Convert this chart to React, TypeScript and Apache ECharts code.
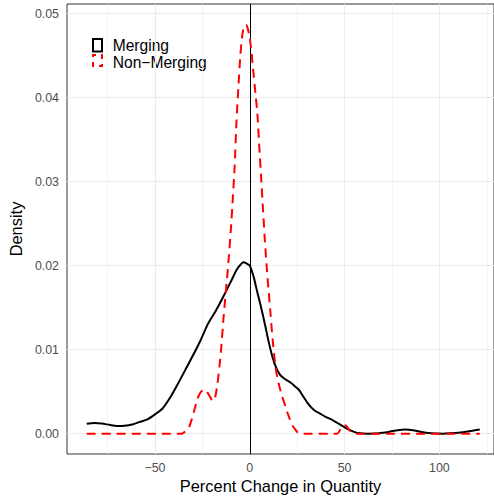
import React, { useEffect, useRef } from "react";
import * as echarts from "echarts";

// Kernel density estimates of the percent change in quantity
const mergingX = [
  -86, -82, -78, -74, -70, -66, -62, -58, -54, -50, -46, -42, -38, -34, -30, -26, -22, -18, -14, -10,
  -7, -5, -3.5, -2, 0, 2, 4, 6, 8, 10, 12, 14, 16, 18, 20, 22, 24, 26, 28, 31, 34, 37, 40, 43, 46,
  49, 52, 55, 58, 62, 66, 70, 74, 78, 82, 86, 90, 94, 98, 102, 106, 110, 114, 118, 121.3,
];
const mergingY = [
  0.00119, 0.00127, 0.0012, 0.00105, 0.00092, 0.00095, 0.0011, 0.0014, 0.0017, 0.0023, 0.003, 0.0043,
  0.0059, 0.0076, 0.0093, 0.0111, 0.0131, 0.0146, 0.0163, 0.0181, 0.0195, 0.0201, 0.0204, 0.0203,
  0.02, 0.0187, 0.0168, 0.015, 0.013, 0.0109, 0.0091, 0.0078, 0.007, 0.0066, 0.0063, 0.006, 0.0056,
  0.0052, 0.0045, 0.0035, 0.0028, 0.0024, 0.002, 0.0017, 0.0013, 0.0009, 0.0005, 0.00022, 0.00005, 0,
  0.00002, 0.0001, 0.00025, 0.00042, 0.0005, 0.00042, 0.00022, 0.00008, 0.00001, 0, 0.00005, 0.00012,
  0.00022, 0.00038, 0.0005,
];

const nonMergingX = [
  -86, -36, -35, -33.5, -32, -30.5, -29, -27.5, -26, -24.5, -23, -21.5, -20, -19, -18, -17, -16, -15,
  -14, -13, -12, -11, -10, -9, -8, -7, -6, -5, -4, -3, -2, -1, 0, 1, 2, 3, 4, 5, 6, 7, 8, 9, 10, 11,
  12, 13, 14, 15, 16, 17, 18, 19, 20, 21, 22, 23, 24, 25, 26, 27, 46, 47, 48, 49, 50, 51, 52, 53, 54,
  55, 121.3,
];
const nonMergingY = [
  0, 0, 0.0001, 0.0004, 0.0008, 0.0018, 0.003, 0.0042, 0.0049, 0.0052, 0.0051, 0.0046, 0.004, 0.0039,
  0.0046, 0.006, 0.008, 0.0104, 0.0134, 0.016, 0.0185, 0.0212, 0.0243, 0.0278, 0.0318, 0.0373, 0.0413,
  0.045, 0.0474, 0.0485, 0.0487, 0.0482, 0.0471, 0.0452, 0.0428, 0.0405, 0.0381, 0.0342, 0.0304,
  0.0266, 0.0228, 0.0196, 0.0168, 0.0141, 0.0113, 0.0091, 0.0073, 0.0062, 0.0053, 0.0045, 0.0038,
  0.0031, 0.0024, 0.0018, 0.0012, 0.0008, 0.0005, 0.0002, 0.00005, 0, 0, 0.0002, 0.0006, 0.0009, 0.001,
  0.0009, 0.0006, 0.0003, 0.0001, 0, 0,
];

const xTicks = [-50, 0, 50, 100];
const xMinorGrid = [-75, -25, 25, 75, 125];
const yTicks = [0, 0.01, 0.02, 0.03, 0.04, 0.05];
const yMinorGrid = [0.005, 0.015, 0.025, 0.035, 0.045];
const legendLabels = ["Merging", "Non\u2212Merging"];

const FONT = "'Liberation Sans', Arial, Helvetica, sans-serif";

export default function App() {
  const ref = useRef<HTMLDivElement>(null);

  useEffect(() => {
    if (!ref.current) return;
    const chart = echarts.init(ref.current, null, { renderer: "svg" });

    const gridLines = [
      ...xTicks.map((v) => ({ xAxis: v, lineStyle: { width: 1.1, color: "#EBEBEB", type: "solid" } })),
      ...xMinorGrid.map((v) => ({ xAxis: v, lineStyle: { width: 0.6, color: "#EBEBEB", type: "solid" } })),
      ...yTicks.map((v) => ({ yAxis: v, lineStyle: { width: 1.1, color: "#EBEBEB", type: "solid" } })),
      ...yMinorGrid.map((v) => ({ yAxis: v, lineStyle: { width: 0.6, color: "#EBEBEB", type: "solid" } })),
    ];

    const legendText = (label: string, y: number) => ({
      type: "text",
      x: 112.7,
      y,
      style: {
        text: label,
        fontSize: 15.6,
        fontFamily: FONT,
        fill: "#000000",
        verticalAlign: "middle",
        align: "left",
      },
    });

    chart.setOption({
      animation: false,
      backgroundColor: "#FFFFFF",
      textStyle: { fontFamily: FONT },
      grid: {
        left: 65.3,
        right: -2,
        top: 4,
        bottom: 46,
        show: true,
        borderColor: "#333333",
        borderWidth: 1,
        backgroundColor: "transparent",
      },
      xAxis: {
        type: "value",
        min: -96.4,
        max: 128.8,
        name: "Percent Change in Quantity",
        nameLocation: "middle",
        nameGap: 21.5,
        nameTextStyle: { fontSize: 16.4, color: "#000000", fontFamily: FONT },
        axisLine: { show: false },
        axisTick: {
          show: true,
          customValues: xTicks,
          length: 4.5,
          lineStyle: { color: "#333333", width: 1 },
        },
        axisLabel: {
          customValues: xTicks,
          margin: 7.5,
          fontSize: 12.4,
          color: "#4D4D4D",
          fontFamily: FONT,
          formatter: (v: number) => String(v).replace("-", "\u2212"),
        },
        splitLine: { show: false },
      },
      yAxis: {
        type: "value",
        min: -0.00242,
        max: 0.05116,
        name: "Density",
        nameLocation: "middle",
        nameGap: 37,
        nameRotate: 90,
        nameTextStyle: { fontSize: 16.4, color: "#000000", fontFamily: FONT },
        axisLine: { show: false },
        axisTick: {
          show: true,
          customValues: yTicks,
          length: 4.5,
          lineStyle: { color: "#333333", width: 1 },
        },
        axisLabel: {
          customValues: yTicks,
          margin: 8,
          fontSize: 12.4,
          color: "#4D4D4D",
          fontFamily: FONT,
          formatter: (v: number) => v.toFixed(2),
        },
        splitLine: { show: false },
      },
      series: [
        {
          // panel grid lines, kept beneath the curves
          type: "line",
          z: 1,
          data: [[0, 0]],
          showSymbol: false,
          lineStyle: { opacity: 0 },
          silent: true,
          markLine: {
            z: 1,
            silent: true,
            symbol: ["none", "none"],
            label: { show: false },
            data: gridLines,
          },
        },
        {
          // reference line at zero change
          type: "line",
          z: 2,
          data: [[0, 0]],
          showSymbol: false,
          lineStyle: { opacity: 0 },
          silent: true,
          markLine: {
            z: 2,
            silent: true,
            symbol: ["none", "none"],
            label: { show: false },
            lineStyle: { color: "#000000", width: 1, type: "solid" },
            data: [{ xAxis: 0 }],
          },
        },
        {
          name: legendLabels[0],
          type: "line",
          z: 3,
          data: mergingX.map((x, i) => [x, mergingY[i]]),
          showSymbol: false,
          smooth: 0.25,
          lineStyle: { color: "#000000", width: 2 },
        },
        {
          name: legendLabels[1],
          type: "line",
          z: 4,
          data: nonMergingX.map((x, i) => [x, nonMergingY[i]]),
          showSymbol: false,
          smooth: 0.2,
          lineStyle: { color: "#FF0000", width: 2, type: [9, 6] },
        },
      ],
      graphic: [
        {
          type: "group",
          z: 100,
          children: [
            {
              type: "rect",
              shape: { x: 88, y: 20, width: 127, height: 57 },
              style: { fill: "#FFFFFF" },
            },
            {
              type: "rect",
              shape: { x: 93, y: 39, width: 9, height: 12.5 },
              style: { fill: "none", stroke: "#000000", lineWidth: 2 },
            },
            {
              type: "rect",
              shape: { x: 93, y: 55, width: 9, height: 11 },
              style: { fill: "none", stroke: "#FF0000", lineWidth: 2, lineDash: [5, 5], lineDashOffset: 2 },
            },
            legendText(legendLabels[0], 45.2),
            legendText(legendLabels[1], 62.8),
          ],
        },
      ],
    });

    return () => chart.dispose();
  }, []);

  return (
    <div
      ref={ref}
      style={{ position: "fixed", left: 0, top: 0, width: 494, height: 500, background: "#fff" }}
    />
  );
}
